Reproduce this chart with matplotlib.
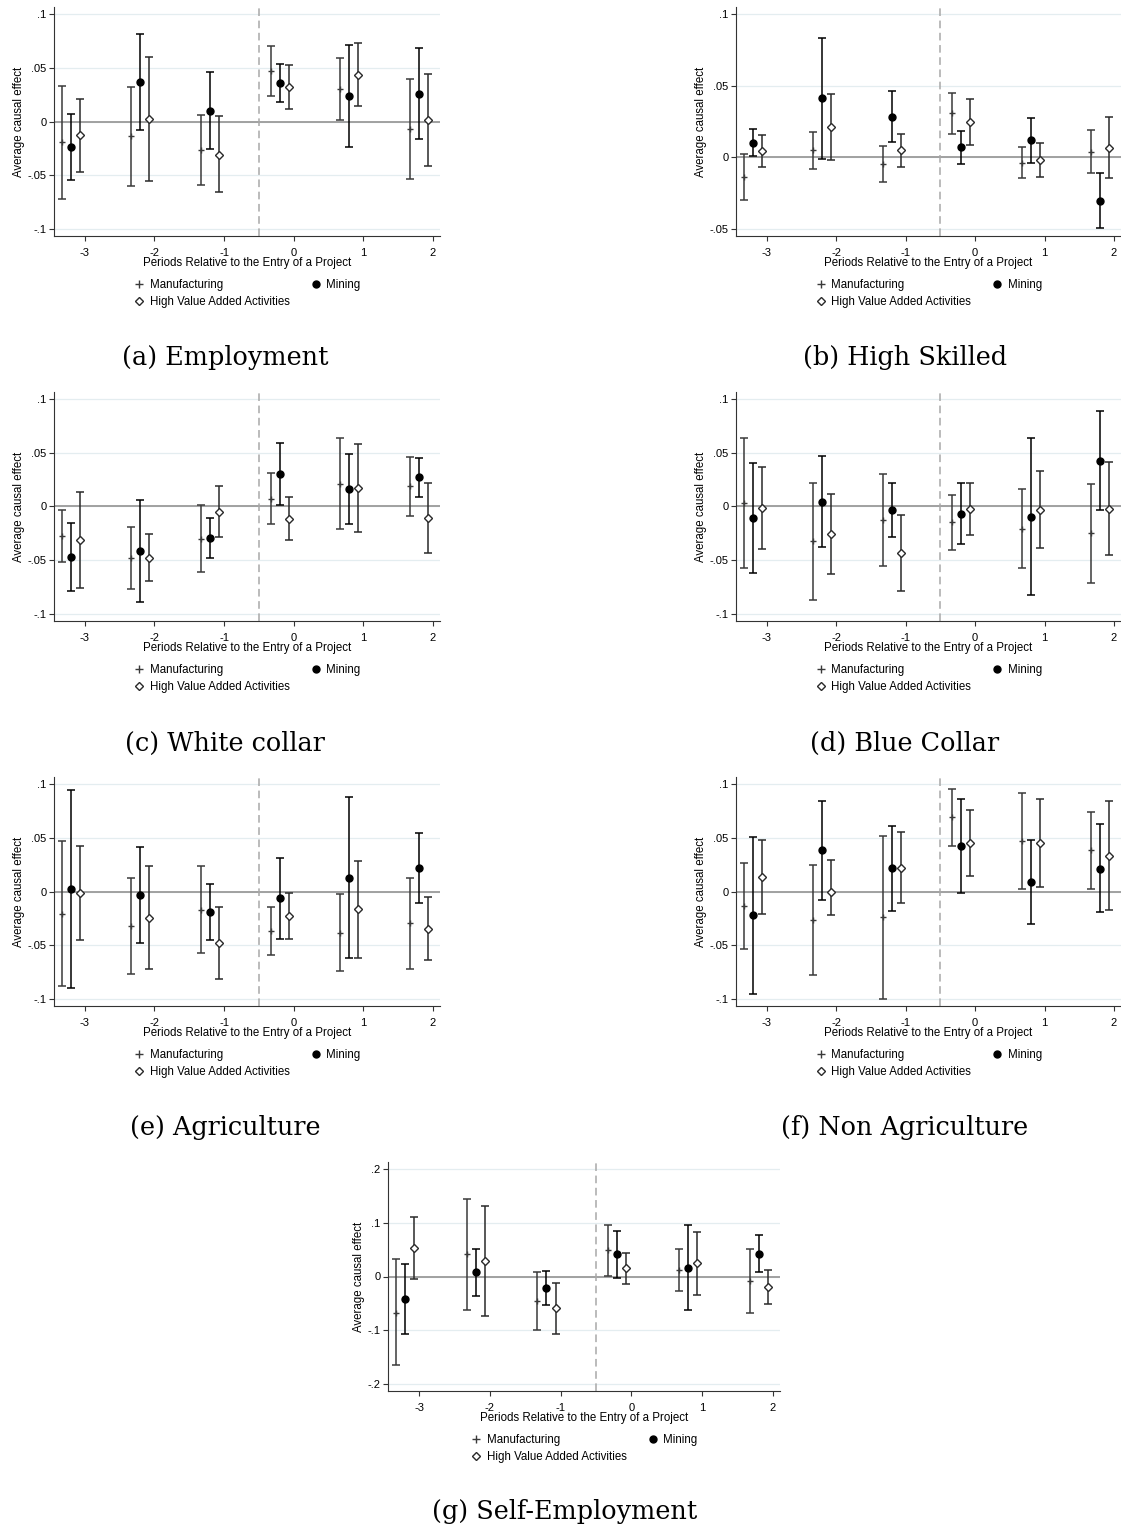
import numpy as np
import matplotlib
matplotlib.use('Agg')
import matplotlib.pyplot as plt
from matplotlib.lines import Line2D

plt.rcParams['font.family'] = ['Liberation Sans', 'DejaVu Sans']

periods = [-3, -2, -1, 0, 1, 2]
offsets = {'manuf': -0.33, 'mining': -0.2, 'hva': -0.07}

# (point, upper, lower) for each period
# (a) Employment
emp_manuf = [(-0.019, 0.0335, -0.072), (-0.0134, 0.032, -0.060), (-0.0267, 0.006, -0.0596),
             (0.047, 0.0705, 0.0236), (0.030, 0.059, 0.0012), (-0.0068, 0.0394, -0.0537)]
emp_mining = [(-0.024, 0.007, -0.055), (0.0366, 0.0817, -0.0084), (0.0102, 0.0466, -0.026),
              (0.0357, 0.0537, 0.018), (0.0236, 0.0717, -0.024), (0.0258, 0.0686, -0.0168)]
emp_hva = [(-0.013, 0.021, -0.047), (0.002, 0.060, -0.056), (-0.031, 0.0047, -0.066),
           (0.0323, 0.0528, 0.0118), (0.0435, 0.073, 0.0143), (0.0012, 0.0447, -0.0416)]

# (b) High Skilled
hs_manuf = [(-0.0138, 0.0023, -0.0296), (0.0049, 0.0177, -0.0082), (-0.0047, 0.0079, -0.0173),
            (0.0306, 0.0446, 0.0163), (-0.004, 0.007, -0.0147), (0.004, 0.0189, -0.0112)]
hs_mining = [(0.0103, 0.0198, 0.0012), (0.0413, 0.0835, -0.0009), (0.0282, 0.046, 0.011),
             (0.0072, 0.0187, -0.0044), (0.0119, 0.0275, -0.0037), (-0.0303, -0.0112, -0.0497)]
hs_hva = [(0.0044, 0.0156, -0.0065), (0.0210, 0.0439, -0.0019), (0.0049, 0.0166, -0.0065),
          (0.0247, 0.0406, 0.0089), (-0.0019, 0.0098, -0.0138), (0.0065, 0.0278, -0.0145)]

# (c) White collar
wc_manuf = [(-0.0276, -0.0034, -0.0522), (-0.0481, -0.0193, -0.077), (-0.0301, 0.0012, -0.0612),
            (0.0071, 0.031, -0.0165), (0.0211, 0.064, -0.0214), (0.019, 0.0466, -0.0087)]
wc_mining = [(-0.0469, -0.0152, -0.0786), (-0.0413, 0.0062, -0.0888), (-0.0292, -0.0106, -0.0478),
             (0.0304, 0.0593, 0.0016), (0.0165, 0.0494, -0.0165), (0.0273, 0.0457, 0.009)]
wc_hva = [(-0.0314, 0.0134, -0.0758), (-0.0481, -0.0255, -0.0699), (-0.0047, 0.0196, -0.0289),
          (-0.0115, 0.0087, -0.031), (0.0174, 0.0587, -0.0236), (-0.0109, 0.0217, -0.0432)]

# (d) Blue Collar
bc_manuf = [(0.0031, 0.064, -0.0575), (-0.0323, 0.0217, -0.087), (-0.0124, 0.0301, -0.0559),
            (-0.0149, 0.0106, -0.0407), (-0.0208, 0.0161, -0.0578), (-0.0248, 0.0211, -0.0711)]
bc_mining = [(-0.0109, 0.0404, -0.0618), (0.0043, 0.0472, -0.0382), (-0.0031, 0.0217, -0.0283),
             (-0.0068, 0.0217, -0.0351), (-0.0096, 0.064, -0.0829), (0.0429, 0.0894, -0.0034)]
bc_hva = [(-0.0012, 0.037, -0.0394), (-0.0255, 0.0121, -0.0627), (-0.0438, -0.0081, -0.0792),
          (-0.0025, 0.0217, -0.0264), (-0.0034, 0.0329, -0.0388), (-0.0019, 0.0419, -0.045)]

# (e) Agriculture
ag_manuf = [(-0.0211, 0.0469, -0.0885), (-0.032, 0.0127, -0.0767), (-0.0171, 0.0239, -0.0575),
            (-0.0373, -0.0149, -0.0593), (-0.0385, -0.0025, -0.0745), (-0.0298, 0.013, -0.0727)]
ag_mining = [(0.0019, 0.0944, -0.0904), (-0.0034, 0.0413, -0.0481), (-0.0196, 0.0068, -0.0457),
             (-0.0062, 0.0317, -0.0441), (0.013, 0.0879, -0.0618), (0.0217, 0.0547, -0.0106)]
ag_hva = [(-0.0012, 0.0429, -0.045), (-0.0245, 0.0236, -0.0724), (-0.0484, -0.0143, -0.0817),
          (-0.0227, -0.0012, -0.0441), (-0.0168, 0.0286, -0.0618), (-0.0351, -0.0053, -0.0643)]

# (f) Non Agriculture
na_manuf = [(-0.0134, 0.0264, -0.0537), (-0.0264, 0.0248, -0.0776), (-0.0239, 0.0516, -0.1003),
            (0.0693, 0.0960, 0.0422), (0.0472, 0.0916, 0.0019), (0.0385, 0.0745, 0.0028)]
na_mining = [(-0.0220, 0.0506, -0.0954), (0.0385, 0.0845, -0.0075), (0.0217, 0.0615, -0.0180),
             (0.0426, 0.0863, -0.0012), (0.0087, 0.0478, -0.0307), (0.0214, 0.0627, -0.0190)]
na_hva = [(0.0134, 0.0481, -0.0211), (-0.0006, 0.0298, -0.0220), (0.0224, 0.0556, -0.0106),
          (0.0450, 0.0758, 0.0143), (0.0450, 0.0863, 0.0040), (0.0332, 0.0842, -0.0171)]

# (g) Self-Employment
se_manuf = [(-0.067, 0.0329, -0.1652), (0.041, 0.1447, -0.0627), (-0.0453, 0.0081, -0.100),
            (0.0491, 0.0957, 0.0012), (0.013, 0.0516, -0.0261), (-0.0081, 0.0503, -0.0677)]
se_mining = [(-0.041, 0.0236, -0.1062), (0.0075, 0.0509, -0.036), (-0.0211, 0.0099, -0.0522),
             (0.041, 0.0839, -0.0025), (0.0161, 0.095, -0.0627), (0.0422, 0.0764, 0.0087)]
se_hva = [(0.0534, 0.1112, -0.0043), (0.0292, 0.1317, -0.0733), (-0.0584, -0.0112, -0.1062),
          (0.0149, 0.0435, -0.0143), (0.0248, 0.0826, -0.0335), (-0.0199, 0.0118, -0.0516)]

ticks_05 = [-0.1, -0.05, 0, 0.05, 0.1]
labels_05 = ['-.1', '-.05', '0', '.05', '.1']
ticks_hs = [-0.05, 0, 0.05, 0.1]
labels_hs = ['-.05', '0', '.05', '.1']
ticks_se = [-0.2, -0.1, 0, 0.1, 0.2]
labels_se = ['-.2', '-.1', '0', '.1', '.2']

panels = [
    ('(a) Employment', emp_manuf, emp_mining, emp_hva, ticks_05, labels_05, (-0.107, 0.107)),
    ('(b) High Skilled', hs_manuf, hs_mining, hs_hva, ticks_hs, labels_hs, (-0.055, 0.105)),
    ('(c) White collar', wc_manuf, wc_mining, wc_hva, ticks_05, labels_05, (-0.107, 0.107)),
    ('(d) Blue Collar', bc_manuf, bc_mining, bc_hva, ticks_05, labels_05, (-0.107, 0.107)),
    ('(e) Agriculture', ag_manuf, ag_mining, ag_hva, ticks_05, labels_05, (-0.107, 0.107)),
    ('(f) Non Agriculture', na_manuf, na_mining, na_hva, ticks_05, labels_05, (-0.107, 0.107)),
    ('(g) Self-Employment', se_manuf, se_mining, se_hva, ticks_se, labels_se, (-0.213, 0.213)),
]

W, H = 1121, 1528
# axes boxes in pixels: left, top, right, bottom
boxes = [(54, 7, 440, 236), (736, 7, 1121, 236),
         (54, 392, 440, 621), (736, 392, 1121, 621),
         (54, 777, 440, 1006), (736, 777, 1121, 1006),
         (388, 1162, 780, 1391)]
caption_pos = [(225, 358), (905, 358), (225, 743), (905, 743),
               (225, 1128), (905, 1128), (565, 1512)]

fig = plt.figure(figsize=(W / 100, H / 100), dpi=100)


def draw_series(ax, data, off, fmt, color, mfc, ms, z):
    arr = np.array(data)
    x = np.array(periods) + off
    y = arr[:, 0]
    err = [y - arr[:, 2], arr[:, 1] - y]
    ax.errorbar(x, y, yerr=err, fmt=fmt, color=color, mfc=mfc, mec=color, ms=ms,
                ecolor=color, elinewidth=1.1, capsize=2.8, capthick=1.1, zorder=z)


for (title, manuf, mining, hva, yt, yl, ylim), box, cap in zip(panels, boxes, caption_pos):
    l, t, r, b = box
    ax = fig.add_axes([l / W, 1 - b / H, (r - l) / W, (b - t) / H])
    for v in yt:
        ax.axhline(v, color='#e4edf0', lw=0.9, zorder=0)
    ax.axhline(0, color='#9a9a9a', lw=1.3, zorder=1)
    ax.axvline(-0.5, color='#a8a8a8', lw=1.1, ls=(0, (5, 3)), zorder=1)

    draw_series(ax, manuf, offsets['manuf'], '+', '#3a3a3a', '#3a3a3a', 5, 3)
    draw_series(ax, mining, offsets['mining'], 'o', 'black', 'black', 5, 4)
    draw_series(ax, hva, offsets['hva'], 'D', '#2a2a2a', 'white', 4.2, 5)

    ax.set_xlim(-3.44, 2.1)
    ax.set_ylim(*ylim)
    ax.set_xticks(periods)
    ax.set_xticklabels([str(p) for p in periods], fontsize=8)
    ax.set_yticks(yt)
    ax.set_yticklabels(yl, fontsize=8)
    ax.tick_params(length=3.5, width=0.8, color='#333333')
    ax.tick_params(axis='x', pad=5)
    ax.tick_params(axis='y', pad=2)
    for s in ['top', 'right']:
        ax.spines[s].set_visible(False)
    for s in ['left', 'bottom']:
        ax.spines[s].set_linewidth(0.8)
        ax.spines[s].set_color('#333333')
    ax.set_xlabel('Periods Relative to the Entry of a Project', fontsize=8.3, labelpad=-0.5)
    ax.set_ylabel('Average causal effect', fontsize=8.3, labelpad=2)

    handles = [Line2D([], [], ls='none', marker='+', color='#3a3a3a', ms=5.5),
               Line2D([], [], ls='none', marker='D', mfc='white', mec='#2a2a2a', ms=4.2),
               Line2D([], [], ls='none', marker='o', color='black', ms=5)]
    names = ['Manufacturing', 'High Value Added Activities', 'Mining']
    ax.legend(handles, names, loc='upper center', bbox_to_anchor=(0.5, -0.143), ncol=2,
              frameon=False, fontsize=8.3, handlelength=1.0, handletextpad=0.4,
              columnspacing=1.8, labelspacing=0.4)

    fig.text(cap[0] / W, 1 - cap[1] / H, title, ha='center', va='center',
             fontsize=18.4, family='DejaVu Serif')

fig.savefig('out.png', dpi=100)
